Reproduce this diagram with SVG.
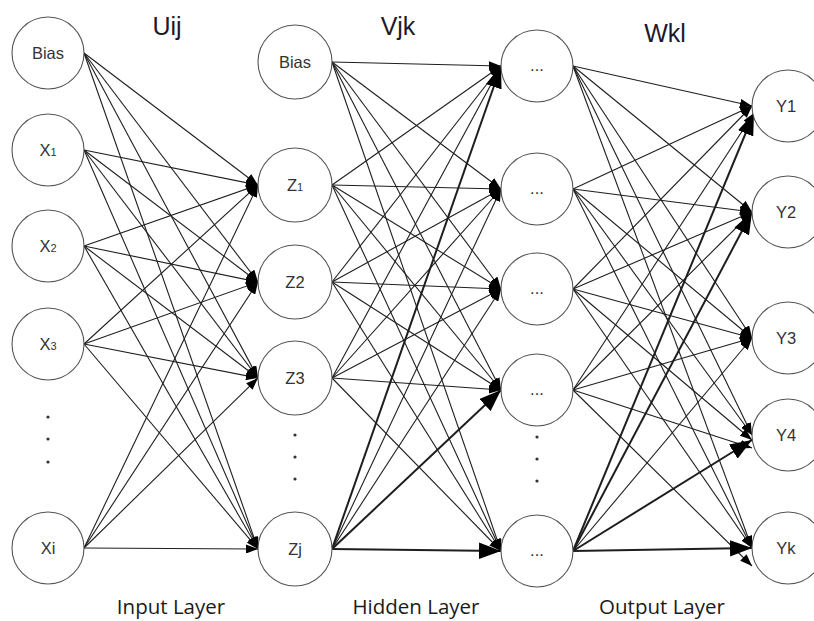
<svg xmlns="http://www.w3.org/2000/svg" width="814" height="621" viewBox="0 0 814 621">
  <style>
    .node circle { fill: #ffffff; stroke: #555555; stroke-width: 1.1; }
    .lbl { font-family: "Liberation Sans", Arial, sans-serif; font-size: 16.5px; fill: #333333; text-anchor: middle; }
    .sub { font-size: 11px; }
    .title { font-family: "Liberation Sans", Arial, sans-serif; font-size: 25px; fill: #1a1a2a; text-anchor: middle; }
    .layer { font-family: "Open Sans", "Liberation Sans", sans-serif; font-size: 20.5px; fill: #1a1a1a; text-anchor: middle; }
    .dot { fill: #333333; }
    .edges line { stroke: #1e1e1e; stroke-width: 1.1; marker-end: url(#arrow); }
    .edges line.thick { stroke-width: 2; }
  </style>
  <defs>
    <marker id="arrow" viewBox="0 0 10 7.5" markerWidth="11" markerHeight="8.25" refX="10" refY="3.75" orient="auto" markerUnits="strokeWidth">
      <path d="M0,0 L10,3.75 L0,7.5 z" fill="#000000"/>
    </marker>
  </defs>
  <rect width="814" height="621" fill="#ffffff"/>

  <!-- weight labels -->
  <text class="title" x="167" y="35">Uij</text>
  <text class="title" x="398" y="35">Vjk</text>
  <text class="title" x="665" y="42">Wkl</text>

  <!-- connectors -->
  <g id="connectors" class="edges">
    <!-- input layer to hidden layer (Uij) -->
    <line x1="84" y1="53" x2="258" y2="185"/>
    <line x1="84" y1="53" x2="258" y2="282"/>
    <line x1="84" y1="53" x2="258" y2="378"/>
    <line x1="84" y1="53" x2="258" y2="549"/>
    <line x1="84" y1="150" x2="258" y2="185"/>
    <line x1="84" y1="150" x2="258" y2="282"/>
    <line x1="84" y1="150" x2="258" y2="378"/>
    <line x1="84" y1="150" x2="258" y2="549"/>
    <line x1="84" y1="246" x2="258" y2="185"/>
    <line x1="84" y1="246" x2="258" y2="282"/>
    <line x1="84" y1="246" x2="258" y2="378"/>
    <line x1="84" y1="246" x2="258" y2="549"/>
    <line x1="84" y1="344" x2="258" y2="185"/>
    <line x1="84" y1="344" x2="258" y2="282"/>
    <line x1="84" y1="344" x2="258" y2="378"/>
    <line x1="84" y1="344" x2="258" y2="549"/>
    <line x1="84" y1="548" x2="258" y2="185"/>
    <line x1="84" y1="548" x2="258" y2="282"/>
    <line x1="84" y1="548" x2="258" y2="378"/>
    <line x1="84" y1="548" x2="258" y2="549"/>

    <!-- hidden layer to second hidden layer (Vjk) -->
    <line x1="332" y1="62" x2="501" y2="66"/>
    <line x1="332" y1="62" x2="501" y2="189"/>
    <line x1="332" y1="62" x2="501" y2="289"/>
    <line x1="332" y1="62" x2="501" y2="390"/>
    <line x1="332" y1="62" x2="501" y2="551"/>
    <line x1="332" y1="185" x2="501" y2="66"/>
    <line x1="332" y1="185" x2="501" y2="189"/>
    <line x1="332" y1="185" x2="501" y2="289"/>
    <line x1="332" y1="185" x2="501" y2="390"/>
    <line x1="332" y1="185" x2="501" y2="551"/>
    <line x1="332" y1="282" x2="501" y2="66"/>
    <line x1="332" y1="282" x2="501" y2="189"/>
    <line x1="332" y1="282" x2="501" y2="289"/>
    <line x1="332" y1="282" x2="501" y2="390"/>
    <line x1="332" y1="282" x2="501" y2="551"/>
    <line x1="332" y1="378" x2="501" y2="66"/>
    <line x1="332" y1="378" x2="501" y2="189"/>
    <line x1="332" y1="378" x2="501" y2="289"/>
    <line x1="332" y1="378" x2="501" y2="390"/>
    <line x1="332" y1="378" x2="501" y2="551"/>
    <line class="thick" x1="332" y1="549" x2="501" y2="66"/>
    <line x1="332" y1="549" x2="501" y2="189"/>
    <line x1="332" y1="549" x2="501" y2="289"/>
    <line class="thick" x1="332" y1="549" x2="501" y2="390"/>
    <line class="thick" x1="332" y1="549" x2="501" y2="551"/>

    <!-- second hidden layer to output layer (Wkl) -->
    <line x1="573" y1="66" x2="752" y2="106"/>
    <line x1="573" y1="66" x2="752" y2="212"/>
    <line x1="573" y1="66" x2="752" y2="338"/>
    <line x1="573" y1="66" x2="752" y2="435"/>
    <line x1="573" y1="66" x2="752" y2="548"/>
    <line x1="573" y1="189" x2="752" y2="106"/>
    <line x1="573" y1="189" x2="752" y2="212"/>
    <line x1="573" y1="189" x2="752" y2="338"/>
    <line x1="573" y1="189" x2="752" y2="435"/>
    <line x1="573" y1="189" x2="752" y2="548"/>
    <line x1="573" y1="289" x2="752" y2="106"/>
    <line x1="573" y1="289" x2="752" y2="212"/>
    <line x1="573" y1="289" x2="752" y2="338"/>
    <line x1="573" y1="289" x2="752" y2="440"/>
    <line x1="573" y1="289" x2="752" y2="548"/>
    <line x1="573" y1="390" x2="754" y2="113"/>
    <line x1="573" y1="390" x2="752" y2="212"/>
    <line x1="573" y1="390" x2="752" y2="338"/>
    <line x1="573" y1="390" x2="752" y2="448"/>
    <line x1="573" y1="390" x2="752" y2="566"/>
    <line class="thick" x1="573" y1="551" x2="754" y2="113"/>
    <line class="thick" x1="573" y1="551" x2="752" y2="212"/>
    <line x1="573" y1="551" x2="752" y2="338"/>
    <line class="thick" x1="573" y1="551" x2="752" y2="440"/>
    <line class="thick" x1="573" y1="551" x2="752" y2="548"/>
  </g>

  <!-- input layer -->
  <g id="in-bias" class="node"><circle cx="48" cy="53" r="36"/><text class="lbl" x="48" y="59">Bias</text></g>
  <g id="in-x1" class="node"><circle cx="48" cy="150" r="36"/><text class="lbl" x="48" y="156">X<tspan class="sub">1</tspan></text></g>
  <g id="in-x2" class="node"><circle cx="48" cy="246" r="36"/><text class="lbl" x="48" y="252">X<tspan class="sub">2</tspan></text></g>
  <g id="in-x3" class="node"><circle cx="48" cy="344" r="36"/><text class="lbl" x="48" y="350">X<tspan class="sub">3</tspan></text></g>
  <g id="in-dots">
    <circle class="dot" cx="48" cy="417" r="1.6"/>
    <circle class="dot" cx="48" cy="439" r="1.6"/>
    <circle class="dot" cx="48" cy="462" r="1.6"/>
  </g>
  <g id="in-xi" class="node"><circle cx="48" cy="548" r="36"/><text class="lbl" x="48" y="554">Xi</text></g>

  <!-- hidden layer -->
  <g id="hid-bias" class="node"><circle cx="295" cy="62" r="37"/><text class="lbl" x="295" y="68">Bias</text></g>
  <g id="hid-z1" class="node"><circle cx="295" cy="185" r="37"/><text class="lbl" x="295" y="191">Z<tspan class="sub">1</tspan></text></g>
  <g id="hid-z2" class="node"><circle cx="295" cy="282" r="37"/><text class="lbl" x="295" y="288">Z2</text></g>
  <g id="hid-z3" class="node"><circle cx="295" cy="378" r="37"/><text class="lbl" x="295" y="384">Z3</text></g>
  <g id="hid-dots">
    <circle class="dot" cx="295" cy="435" r="1.6"/>
    <circle class="dot" cx="295" cy="457" r="1.6"/>
    <circle class="dot" cx="295" cy="479" r="1.6"/>
  </g>
  <g id="hid-zj" class="node"><circle cx="295" cy="549" r="37"/><text class="lbl" x="295" y="555">Zj</text></g>

  <!-- second hidden layer -->
  <g id="h2-1" class="node"><circle cx="537" cy="66" r="36"/><text class="lbl" x="537" y="71">...</text></g>
  <g id="h2-2" class="node"><circle cx="537" cy="189" r="36"/><text class="lbl" x="537" y="194">...</text></g>
  <g id="h2-3" class="node"><circle cx="537" cy="289" r="36"/><text class="lbl" x="537" y="294">...</text></g>
  <g id="h2-4" class="node"><circle cx="537" cy="390" r="36"/><text class="lbl" x="537" y="395">...</text></g>
  <g id="h2-dots">
    <circle class="dot" cx="537" cy="437" r="1.6"/>
    <circle class="dot" cx="537" cy="459" r="1.6"/>
    <circle class="dot" cx="537" cy="481" r="1.6"/>
  </g>
  <g id="h2-n" class="node"><circle cx="537" cy="551" r="36"/><text class="lbl" x="537" y="556">...</text></g>

  <!-- output layer -->
  <g id="out-y1" class="node"><circle cx="788" cy="106" r="36"/><text class="lbl" x="786" y="112">Y1</text></g>
  <g id="out-y2" class="node"><circle cx="788" cy="212" r="36"/><text class="lbl" x="786" y="218">Y2</text></g>
  <g id="out-y3" class="node"><circle cx="788" cy="338" r="36"/><text class="lbl" x="786" y="344">Y3</text></g>
  <g id="out-y4" class="node"><circle cx="788" cy="435" r="36"/><text class="lbl" x="786" y="441">Y4</text></g>
  <g id="out-yk" class="node"><circle cx="788" cy="548" r="36"/><text class="lbl" x="786" y="554">Yk</text></g>

  <!-- layer captions -->
  <text class="layer" x="171" y="614">Input Layer</text>
  <text class="layer" x="416" y="614">Hidden Layer</text>
  <text class="layer" x="662" y="614">Output Layer</text>
</svg>
